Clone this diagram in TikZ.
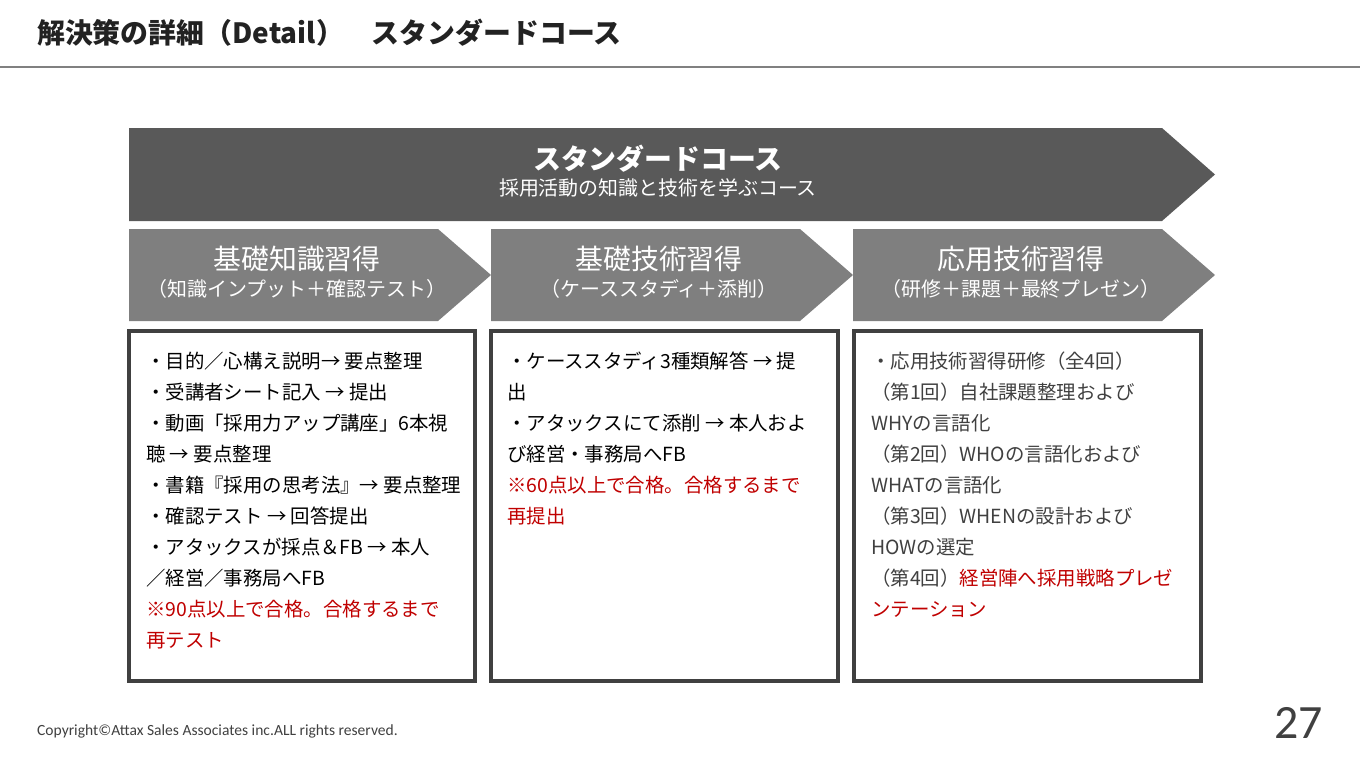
\documentclass[tikz,border=0pt]{standalone}
\usepackage{fontspec}
\setmainfont{Noto Sans CJK JP}
\newfontfamily\footfont{Carlito}
\definecolor{titlecol}{HTML}{222222}
\definecolor{arrowdark}{HTML}{595959}
\definecolor{chevgray}{HTML}{7F7F7F}
\definecolor{boxline}{HTML}{404040}
\definecolor{redtxt}{HTML}{C00000}
\definecolor{graytxt}{HTML}{404040}
\definecolor{rulegray}{HTML}{808080}
\begin{document}
\begin{tikzpicture}[x=1bp,y=-1bp,
  ln/.style={anchor=base west, inner sep=0pt, font=\fontsize{19.5}{23}\selectfont},
  chevtitle/.style={anchor=base, inner sep=0pt, text=white, font=\fontsize{28}{32}\selectfont},
  chevsub/.style={anchor=base, inner sep=0pt, text=white, font=\fontsize{20}{24}\selectfont},
  detailbox/.style={draw=boxline, line width=4bp, fill=white}]
\useasboundingbox (0,0) rectangle (1360,766);
% title
\node[anchor=base west, inner sep=0pt, text=titlecol, font=\fontsize{28}{32}\selectfont\bfseries] (title) at (37,44) {解決策の詳細（Detail）　スタンダードコース};
\draw[rulegray, line width=1.6bp] (0,67) -- (1360,67);
% top arrow
\fill[arrowdark] (129,128) -- (1162,128) -- (1215,174.5) -- (1162,221) -- (129,221) -- cycle;
\node[anchor=base, inner sep=0pt, text=white, font=\fontsize{28}{32}\selectfont\bfseries] (hdr) at (658,169.5) {スタンダードコース};
\node[chevsub] (hdrsub) at (658,195.5) {採用活動の知識と技術を学ぶコース};
% chevrons
\foreach \x in {129,491,853}{
  \fill[chevgray] (\x,229) -- (\x+309,229) -- (\x+362,275) -- (\x+309,321) -- (\x,321) -- cycle;
}
\node[chevtitle] (t1) at (297,269.5) {基礎知識習得};
\node[chevsub] (s1) at (297,296.5) {（知識インプット＋確認テスト）};
\node[chevtitle] (t2) at (659,269.5) {基礎技術習得};
\node[chevsub] (s2) at (659,296.5) {（ケーススタディ＋添削）};
\node[chevtitle] (t3) at (1021,269.5) {応用技術習得};
\node[chevsub] (s3) at (1021,296.5) {（研修＋課題＋最終プレゼン）};
% boxes
\draw[detailbox] (129,331) rectangle (475,681);
\draw[detailbox] (491,331) rectangle (838,681);
\draw[detailbox] (854,331) rectangle (1201,681);
% box 1 text
\node[ln] (a1) at (146,368.5) {・目的／心構え説明→ 要点整理};
\node[ln] (a2) at (146,399.5) {・受講者シート記入 → 提出};
\node[ln] (a3) at (146,430.5) {・動画「採用力アップ講座」6本視};
\node[ln] (a4) at (146,461.5) {聴 → 要点整理};
\node[ln] (a5) at (146,492.5) {・書籍『採用の思考法』→ 要点整理};
\node[ln] (a6) at (146,523.5) {・確認テスト → 回答提出};
\node[ln] (a7) at (146,554.5) {・アタックスが採点＆FB → 本人};
\node[ln] (a8) at (146,585.5) {／経営／事務局へFB};
\node[ln, text=redtxt] (a9) at (146,616.5) {※90点以上で合格。合格するまで};
\node[ln, text=redtxt] (a10) at (146,647.5) {再テスト};
% box 2 text
\node[ln] (b1) at (507,368.5) {・ケーススタディ3種類解答 → 提};
\node[ln] (b2) at (507,399.5) {出};
\node[ln] (b3) at (507,430.5) {・アタックスにて添削 → 本人およ};
\node[ln] (b4) at (507,461.5) {び経営・事務局へFB};
\node[ln, text=redtxt] (b5) at (507,492.5) {※60点以上で合格。合格するまで};
\node[ln, text=redtxt] (b6) at (507,523.5) {再提出};
% box 3 text
\node[ln, text=graytxt] (c1) at (871,368.5) {・応用技術習得研修（全4回）};
\node[ln, text=graytxt] (c2) at (871,399.5) {（第1回）自社課題整理および};
\node[ln, text=graytxt] (c3) at (871,430.5) {WHYの言語化};
\node[ln, text=graytxt] (c4) at (871,461.5) {（第2回）WHOの言語化および};
\node[ln, text=graytxt] (c5) at (871,492.5) {WHATの言語化};
\node[ln, text=graytxt] (c6) at (871,523.5) {（第3回）WHENの設計および};
\node[ln, text=graytxt] (c7) at (871,554.5) {HOWの選定};
\node[ln, text=graytxt] (c8) at (871,585.5) {（第4回）\textcolor{redtxt}{経営陣へ採用戦略プレゼ}};
\node[ln, text=redtxt] (c9) at (871,616.5) {ンテーション};
% footer
\node[anchor=base west, inner sep=0pt, text=graytxt, font=\footfont\fontsize{15.6}{18}\selectfont] (copy) at (37,735) {Copyright©Attax Sales Associates inc.ALL rights reserved.};
\node[anchor=base east, inner sep=0pt, text=graytxt, font=\footfont\fontsize{48}{52}\selectfont] (page) at (1323,738) {27};
\end{tikzpicture}
\end{document}
